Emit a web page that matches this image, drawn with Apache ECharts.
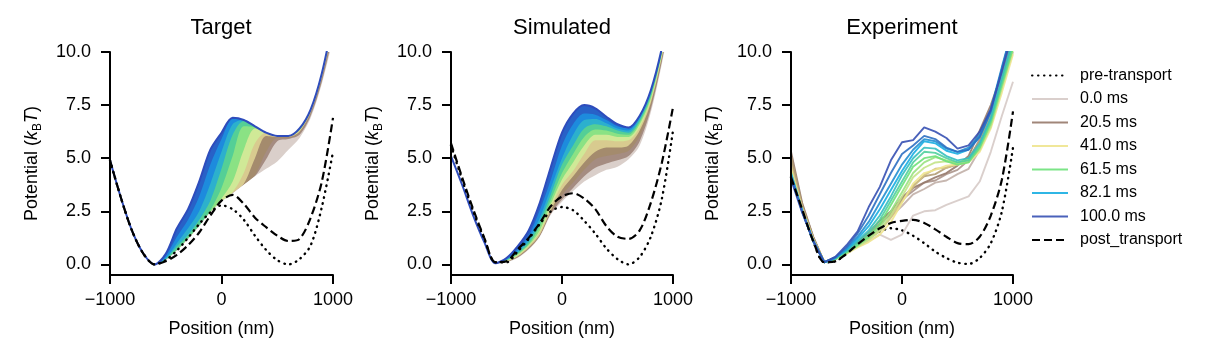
<!DOCTYPE html>
<html>
<head>
<meta charset="utf-8">
<script src="https://cdn.jsdelivr.net/npm/echarts@6/dist/echarts.min.js"></script>
<style>
  html, body { margin: 0; padding: 0; background: #fff; }
  #chart { width: 1213px; height: 362px; }
</style>
</head>
<body>
<div id="chart"></div>
<script>
// positions (nm), shared by every curve
const positions = [-1000, -900, -800, -700, -600, -500, -400, -300, -200, -100, 0, 100, 200, 300, 400, 500, 600, 700, 800, 900, 1000];
const yTicks = [0, 2.5, 5, 7.5, 10];
const panelTitles = ['Target', 'Simulated', 'Experiment'];
const legendNames = ['pre-transport', '0.0 ms', '20.5 ms', '41.0 ms', '61.5 ms', '82.1 ms', '100.0 ms', 'post_transport'];

// pre / post transport potentials (kBT)
const targetPre = [4.9, 3.1, 1.55, 0.5, 0.0, 0.2, 0.65, 1.25, 1.9, 2.45, 2.78, 2.6, 2.1, 1.35, 0.68, 0.2, 0.0, 0.25, 0.9, 2.7, 5.3];
const targetPost = [4.9, 3.1, 1.55, 0.5, 0.0, 0.15, 0.45, 0.9, 1.5, 2.3, 3.0, 3.27, 2.85, 2.2, 1.75, 1.35, 1.1, 1.2, 2.2, 3.9, 6.9];
const simPre = [5.6, 4.0, 2.5, 1.2, 0.1, 0.1, 0.6, 1.2, 1.9, 2.5, 2.7, 2.55, 2.05, 1.45, 0.75, 0.25, 0.0, 0.35, 1.3, 3.1, 6.3];
const simPost = [5.7, 4.1, 2.6, 1.25, 0.1, 0.15, 0.7, 1.25, 1.95, 2.75, 3.2, 3.35, 3.1, 2.6, 1.8, 1.3, 1.2, 1.6, 2.9, 4.8, 7.4];
const expPre = [4.1, 2.6, 1.1, 0.1, 0.15, 0.5, 0.9, 1.25, 1.55, 1.7, 1.6, 1.35, 1.0, 0.6, 0.3, 0.08, 0.02, 0.3, 1.0, 2.5, 5.5];
const expPost = [4.1, 2.6, 1.1, 0.1, 0.15, 0.5, 0.95, 1.35, 1.7, 1.95, 2.05, 2.1, 1.95, 1.65, 1.3, 1.0, 0.95, 1.3, 2.3, 4.0, 7.2];

// target protocol, 0 ms -> 100 ms in 10 steps
const targetCurves = [
  [4.9, 3.1, 1.55, 0.5, 0.0, 0.2, 0.65, 1.2, 1.8, 2.45, 2.95, 3.35, 3.75, 4.15, 4.5, 4.85, 5.4, 5.95, 6.9, 8.5, 10.6],
  [4.9, 3.1, 1.55, 0.5, 0.0, 0.2, 0.65, 1.2, 1.8, 2.45, 2.95, 3.35, 3.75, 4.15, 4.95, 5.8, 5.9, 6.1, 7.0, 8.6, 10.8],
  [4.9, 3.1, 1.55, 0.5, 0.0, 0.2, 0.65, 1.2, 1.8, 2.45, 2.95, 3.35, 3.75, 4.2, 5.3, 5.95, 5.95, 6.2, 7.1, 8.7, 11.0],
  [4.9, 3.1, 1.55, 0.5, 0.0, 0.2, 0.65, 1.2, 1.8, 2.45, 2.95, 3.35, 3.8, 5.0, 6.05, 6.0, 6.0, 6.25, 7.15, 8.8, 11.1],
  [4.9, 3.1, 1.55, 0.5, 0.0, 0.2, 0.65, 1.2, 1.8, 2.45, 2.95, 3.4, 4.3, 5.7, 6.2, 6.05, 6.0, 6.3, 7.2, 8.85, 11.2],
  [4.9, 3.1, 1.55, 0.5, 0.0, 0.2, 0.65, 1.2, 1.8, 2.45, 3.1, 3.9, 5.4, 6.4, 6.2, 6.05, 6.05, 6.3, 7.2, 8.9, 11.3],
  [4.9, 3.1, 1.55, 0.5, 0.0, 0.2, 0.7, 1.25, 1.85, 2.55, 3.6, 5.1, 6.5, 6.45, 6.2, 6.05, 6.05, 6.35, 7.25, 8.9, 11.3],
  [4.9, 3.1, 1.55, 0.5, 0.0, 0.25, 0.85, 1.4, 2.1, 3.0, 4.5, 6.1, 6.75, 6.5, 6.2, 6.05, 6.05, 6.35, 7.25, 8.95, 11.4],
  [4.9, 3.1, 1.55, 0.5, 0.0, 0.3, 1.0, 1.7, 2.5, 3.8, 5.3, 6.6, 6.8, 6.5, 6.2, 6.05, 6.05, 6.4, 7.3, 8.95, 11.4],
  [4.9, 3.1, 1.55, 0.5, 0.0, 0.4, 1.3, 2.1, 3.2, 4.7, 5.9, 6.85, 6.8, 6.5, 6.2, 6.05, 6.05, 6.4, 7.3, 9.0, 11.5],
  [4.9, 3.1, 1.55, 0.5, 0.0, 0.5, 1.7, 2.6, 3.9, 5.4, 6.2, 6.9, 6.8, 6.5, 6.2, 6.05, 6.05, 6.4, 7.3, 9.0, 11.5]
];

// simulated protocol, same time steps
const simCurves = [
  [5.1, 3.75, 2.3, 1.05, 0.05, 0.1, 0.3, 0.7, 1.3, 2.35, 2.95, 3.45, 3.9, 4.2, 4.45, 4.6, 4.95, 5.6, 7.15, 9.45, 12.2],
  [5.1, 3.75, 2.3, 1.05, 0.05, 0.11, 0.32, 0.72, 1.32, 2.38, 3.05, 3.6, 4.15, 4.55, 4.75, 4.9, 5.1, 5.8, 7.3, 9.55, 12.3],
  [5.1, 3.75, 2.3, 1.05, 0.05, 0.12, 0.34, 0.75, 1.35, 2.45, 3.25, 3.85, 4.45, 4.95, 5.1, 5.2, 5.35, 6.05, 7.45, 9.65, 12.4],
  [5.1, 3.75, 2.3, 1.05, 0.05, 0.13, 0.37, 0.8, 1.4, 2.55, 3.5, 4.15, 4.8, 5.3, 5.5, 5.5, 5.6, 6.3, 7.6, 9.75, 12.45],
  [5.1, 3.75, 2.3, 1.05, 0.05, 0.15, 0.4, 0.85, 1.5, 2.7, 3.75, 4.4, 5.2, 5.85, 5.85, 5.8, 5.85, 6.45, 7.7, 9.8, 12.5],
  [5.1, 3.75, 2.3, 1.05, 0.05, 0.17, 0.45, 0.9, 1.6, 2.85, 4.0, 4.8, 5.6, 6.1, 6.1, 6.0, 6.0, 6.6, 7.8, 9.9, 12.6],
  [5.1, 3.75, 2.3, 1.05, 0.05, 0.19, 0.5, 0.95, 1.8, 3.05, 4.3, 5.2, 6.0, 6.35, 6.3, 6.15, 6.1, 6.7, 7.9, 9.95, 12.7],
  [5.1, 3.75, 2.3, 1.05, 0.05, 0.21, 0.55, 1.05, 2.0, 3.3, 4.7, 5.6, 6.4, 6.6, 6.5, 6.3, 6.2, 6.8, 8.0, 10.0, 12.8],
  [5.1, 3.75, 2.3, 1.05, 0.05, 0.24, 0.62, 1.2, 2.2, 3.6, 5.0, 6.1, 6.8, 6.85, 6.65, 6.4, 6.3, 6.9, 8.1, 10.1, 12.85],
  [5.1, 3.75, 2.3, 1.05, 0.05, 0.27, 0.72, 1.35, 2.55, 4.0, 5.6, 6.6, 7.1, 7.05, 6.8, 6.5, 6.4, 6.95, 8.15, 10.15, 12.9],
  [5.1, 3.75, 2.3, 1.05, 0.05, 0.3, 0.85, 1.6, 2.9, 4.6, 6.2, 7.1, 7.5, 7.35, 6.95, 6.6, 6.45, 7.0, 8.2, 10.2, 13.0]
];

// measured potentials, 0 ms -> 100 ms in 15 steps
const expCurves = [
  [4.6, 2.7, 1.2, 0.1, 0.25, 0.55, 0.85, 1.1, 1.4, 1.15, 1.4, 2.3, 2.5, 2.55, 2.8, 3.0, 3.2, 3.9, 5.3, 7.0, 8.6],
  [4.8, 2.8, 1.25, 0.1, 0.3, 0.6, 0.9, 1.3, 1.65, 2.25, 2.75, 3.3, 3.55, 3.85, 3.95, 4.25, 4.5, 5.4, 6.8, 8.4, 10.0],
  [5.0, 2.8, 1.3, 0.1, 0.3, 0.6, 1.0, 1.45, 1.9, 2.35, 3.05, 3.45, 3.85, 3.95, 4.25, 4.45, 4.9, 5.9, 7.2, 8.8, 10.5],
  [5.3, 2.9, 1.3, 0.1, 0.3, 0.65, 1.05, 1.5, 2.05, 2.5, 3.15, 3.6, 3.85, 4.1, 4.3, 4.65, 5.1, 6.3, 7.5, 9.0, 10.8],
  [5.1, 2.8, 1.25, 0.1, 0.3, 0.6, 0.95, 1.4, 1.85, 2.45, 3.0, 3.7, 4.15, 4.25, 4.55, 4.7, 5.0, 5.8, 7.0, 8.7, 10.4],
  [4.7, 2.7, 1.2, 0.1, 0.25, 0.5, 0.85, 1.2, 1.55, 2.2, 2.95, 3.65, 4.2, 4.5, 4.55, 4.75, 4.9, 5.5, 6.6, 8.4, 10.2],
  [4.5, 2.6, 1.15, 0.1, 0.25, 0.5, 0.8, 1.05, 1.4, 2.0, 2.9, 3.8, 4.3, 4.45, 4.65, 4.7, 4.8, 5.3, 6.4, 8.1, 9.9],
  [4.4, 2.6, 1.15, 0.1, 0.25, 0.55, 0.85, 1.15, 1.6, 2.3, 3.2, 4.1, 4.55, 4.8, 4.85, 4.75, 4.9, 5.4, 6.5, 8.3, 10.1],
  [4.3, 2.55, 1.1, 0.1, 0.25, 0.55, 0.9, 1.25, 1.75, 2.5, 3.4, 4.3, 4.8, 5.05, 4.9, 4.8, 4.95, 5.5, 6.6, 8.4, 10.2],
  [4.2, 2.5, 1.1, 0.1, 0.25, 0.55, 0.9, 1.3, 1.9, 2.8, 3.7, 4.6, 5.0, 5.1, 4.85, 4.7, 4.8, 5.5, 6.7, 8.5, 10.2],
  [4.1, 2.5, 1.1, 0.1, 0.3, 0.6, 1.0, 1.45, 2.1, 3.0, 3.9, 4.8, 5.3, 5.25, 5.0, 4.8, 4.9, 5.6, 6.8, 8.6, 10.4],
  [4.2, 2.5, 1.1, 0.1, 0.3, 0.65, 1.1, 1.6, 2.3, 3.2, 4.2, 5.0, 5.5, 5.45, 5.1, 4.9, 5.0, 5.7, 6.9, 8.8, 10.6],
  [4.3, 2.55, 1.1, 0.1, 0.3, 0.7, 1.2, 1.8, 2.6, 3.5, 4.4, 5.2, 5.8, 5.7, 5.35, 5.2, 5.4, 6.0, 7.2, 9.2, 11.0],
  [4.1, 2.5, 1.1, 0.1, 0.3, 0.75, 1.3, 2.0, 2.9, 3.8, 4.7, 5.4, 5.9, 5.8, 5.45, 5.3, 5.5, 6.1, 7.3, 9.3, 11.2],
  [4.2, 2.5, 1.1, 0.1, 0.35, 0.8, 1.45, 2.3, 3.3, 4.3, 5.2, 5.6, 6.05, 5.9, 5.5, 5.3, 5.4, 6.0, 7.2, 9.2, 11.2],
  [4.0, 2.45, 1.1, 0.1, 0.35, 0.9, 1.55, 2.7, 3.65, 4.9, 5.75, 5.85, 6.45, 6.25, 5.95, 5.45, 5.6, 6.25, 7.3, 9.1, 11.0]
];

// colour ramps: light pink -> brown -> yellow -> green -> cyan -> blue
const lineStops = [
  [0, [214, 202, 198]], [0.2, [150, 121, 106]], [0.4, [238, 228, 142]],
  [0.6, [110, 225, 122]], [0.8, [24, 174, 226]], [1, [54, 80, 178]]
];
const fanStops = [
  [0, [244, 240, 239]], [0.2, [138, 106, 92]], [0.4, [242, 236, 160]],
  [0.6, [104, 222, 122]], [0.8, [24, 160, 232]], [1, [46, 76, 188]]
];
function colorAt(t, stops) {
  stops = stops || lineStops;
  for (let k = 1; k < stops.length; k++) {
    if (t <= stops[k][0] + 1e-9) {
      const a = stops[k - 1], b = stops[k];
      const f = (t - a[0]) / (b[0] - a[0]);
      const c = a[1].map((v, i) => Math.round(v + (b[1][i] - v) * f));
      return 'rgb(' + c.join(',') + ')';
    }
  }
  return 'rgb(' + stops[stops.length - 1][1].join(',') + ')';
}

const FONT = 'Liberation Sans';
const gridLefts = [110, 451, 791];
const gridWidths = [223, 222, 222];
const SMOOTH = 0.3;

function pairs(vals) {
  return positions.map((x, j) => [x, vals[j]]);
}

function blackLine(name, vals, gi, dash, w, cap) {
  return {
    type: 'line', name: name, xAxisIndex: gi, yAxisIndex: gi,
    symbol: 'none', smooth: SMOOTH, silent: true,
    lineStyle: { color: '#000', width: w, type: dash, cap: cap },
    data: pairs(vals)
  };
}

// each curve filled down to the axis, latest first; earlier curves paint over,
// so the band between two curves keeps the colour of the later one; the
// earliest curve is filled white to clear everything underneath
function fanSeries(curves, gi, tag) {
  const out = [];
  const n = curves.length;
  for (let i = n - 1; i >= 0; i--) {
    const col = i > 0 ? colorAt((i - 0.5) / (n - 1), fanStops) : '#ffffff';
    out.push({
      type: 'line', name: tag + '-' + i, xAxisIndex: gi, yAxisIndex: gi,
      symbol: 'none', smooth: SMOOTH, silent: true,
      lineStyle: { width: 0 },
      areaStyle: { color: col, opacity: 1, origin: 'start' },
      data: pairs(curves[i])
    });
  }
  out.push({
    type: 'line', name: tag + '-top', xAxisIndex: gi, yAxisIndex: gi,
    symbol: 'none', smooth: SMOOTH, silent: true,
    lineStyle: { width: 2, color: colorAt(1, fanStops) },
    data: pairs(curves[n - 1])
  });
  return out;
}

const DOT = [0.5, 5.5];
const DASH = [8, 4];
const series = [];
series.push(...fanSeries(targetCurves, 0, 'target'));
series.push(...fanSeries(simCurves, 1, 'sim'));
series.push(blackLine('pre-transport', targetPre, 0, DOT, 2.4, 'round'));
series.push(blackLine('pre-transport', simPre, 1, DOT, 2.4, 'round'));
series.push(blackLine('pre-transport', expPre, 2, DOT, 2.4, 'round'));
expCurves.forEach((vals, k) => {
  const t = k / (expCurves.length - 1);
  const legendIdx = [0, 3, 6, 9, 12, 15].indexOf(k);
  series.push({
    type: 'line', name: legendIdx >= 0 ? legendNames[legendIdx + 1] : 'exp-' + k,
    xAxisIndex: 2, yAxisIndex: 2, symbol: 'none', smooth: false, silent: true,
    lineStyle: { color: colorAt(t), width: 1.9, opacity: 0.9 },
    itemStyle: { color: colorAt(t) },
    data: pairs(vals)
  });
});
series.push(blackLine('post_transport', targetPost, 0, DASH, 2.2, 'butt'));
series.push(blackLine('post_transport', simPost, 1, DASH, 2.2, 'butt'));
series.push(blackLine('post_transport', expPost, 2, DASH, 2.2, 'butt'));

const axisBase = {
  z: 10,
  axisLine: { onZero: false, lineStyle: { color: '#000', width: 2 } },
  axisTick: { inside: false, length: 9, lineStyle: { color: '#000', width: 2 } },
  splitLine: { show: false }
};

const option = {
  animation: false,
  backgroundColor: '#fff',
  title: panelTitles.map((txt, i) => ({
    text: txt, left: gridLefts[i] + 111, top: 17, textAlign: 'center', padding: 0,
    textStyle: { fontFamily: FONT, fontSize: 22, fontWeight: 'normal', color: '#000' }
  })),
  legend: {
    data: legendNames, orient: 'vertical', left: 1031, top: 67.5, padding: 0,
    itemWidth: 36, itemHeight: 14, itemGap: 7.5, selectedMode: false,
    itemStyle: { opacity: 0 },
    textStyle: { fontFamily: FONT, fontSize: 16, color: '#000', padding: [0, 0, 0, 7] }
  },
  grid: gridLefts.map((l, i) => ({ left: l, top: 52, width: gridWidths[i], height: 223, outerBoundsMode: 'none' })),
  xAxis: gridLefts.map((l, i) => Object.assign({}, axisBase, {
    type: 'value', gridIndex: i, min: -1000, max: 1000, interval: 1000,
    name: 'Position (nm)', nameLocation: 'middle', nameGap: 45,
    nameTextStyle: { fontFamily: FONT, fontSize: 18, color: '#000' },
    axisLabel: {
      margin: 16, fontFamily: FONT, fontSize: 18, color: '#000',
      formatter: v => String(v).replace('-', '\u2212')
    }
  })),
  yAxis: gridLefts.map((l, i) => Object.assign({}, axisBase, {
    type: 'value', gridIndex: i, min: -0.5, max: 10,
    name: 'Potential ({i|k}{s|B}{i|T})', nameLocation: 'middle', nameGap: 66,
    nameTextStyle: {
      fontFamily: FONT, fontSize: 18, color: '#000',
      rich: {
        i: { fontFamily: FONT, fontSize: 18, fontStyle: 'italic', color: '#000' },
        s: { fontFamily: FONT, fontSize: 12, color: '#000', lineHeight: 24, verticalAlign: 'bottom' }
      }
    },
    axisTick: { inside: false, length: 9, lineStyle: { color: '#000', width: 2 }, customValues: yTicks },
    axisLabel: {
      margin: 19, fontFamily: FONT, fontSize: 18, color: '#000', customValues: yTicks,
      formatter: v => v.toFixed(1)
    }
  })),
  series: series
};

const chart = echarts.init(document.getElementById('chart'), null, { renderer: 'canvas' });
chart.setOption(option);
</script>
</body>
</html>
